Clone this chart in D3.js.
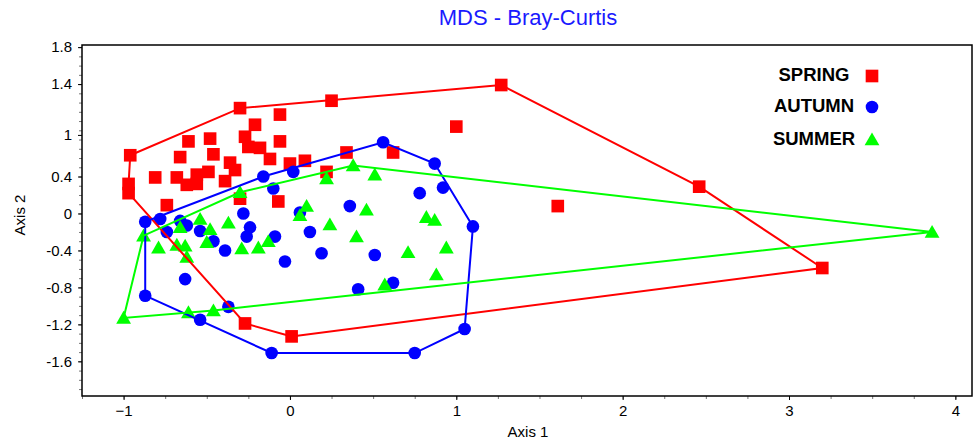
<!DOCTYPE html>
<html>
<head>
<meta charset="utf-8">
<script src="https://cdn.jsdelivr.net/npm/d3@7"></script>
<style>
  body { margin: 0; background: #fff; }
  svg { font-family: "Liberation Sans", Arial, sans-serif; }
</style>
</head>
<body>
<svg id="canvas" width="975" height="444"></svg>
<script>
// MDS scores
const springX = [-0.96, -0.97, -0.97, -0.30, -0.06, -0.21, -0.61, -0.48, -0.27, -0.06,
  -0.66, -0.46, -0.25, -0.18, -0.12, -0.36, -0.81, -0.68, -0.56, -0.49,
  -0.33, -0.62, -0.56, -0.39, 0.00, 0.09, -0.74, -0.30, -0.07, 0.25,
  1.00, 0.34, 0.62, 0.22, 1.27, 1.61, 2.46, 3.20, 0.01, -0.27];
const springY = [0.63, 0.32, 0.22, 1.14, 1.07, 0.96, 0.78, 0.81, 0.83, 0.78,
  0.61, 0.64, 0.72, 0.71, 0.59, 0.55, 0.39, 0.39, 0.42, 0.45,
  0.47, 0.31, 0.32, 0.35, 0.54, 0.57, 0.09, 0.16, 0.13, 1.22,
  0.94, 0.66, 0.66, 0.45, 1.39, 0.08, 0.29, -0.59, -1.33, -1.19];

const autumnX = [-0.87, -0.78, -0.66, -0.62, -0.74, -0.54, -0.46, -0.39, -0.28, -0.24,
  -0.26, -0.09, -0.03, -0.63, -0.87, -0.54, -0.37, -0.11, -0.16, 0.02,
  -0.10, 0.06, 0.56, 0.87, 0.92, 0.78, 0.36, 0.12, 0.19, 0.51,
  0.41, 0.62, 1.10, 1.05, 0.75];
const autumnY = [-0.09, -0.06, -0.08, -0.13, -0.20, -0.19, -0.30, -0.40, 0.00, -0.15,
  -0.25, -0.25, -0.52, -0.71, -0.89, -1.15, -1.01, -1.51, 0.40, 0.45,
  0.27, 0.01, 0.77, 0.54, 0.28, 0.22, 0.08, -0.20, -0.43, -0.45,
  -0.82, -0.75, -0.14, -1.25, -1.51];

const summerX = [-1.00, -0.88, -0.79, -0.68, -0.63, -0.62, -0.66, -0.54, -0.48, -0.37,
  -0.50, -0.29, -0.19, -0.13, -0.30, 0.38, 0.51, 0.22, 0.10, 0.06,
  0.24, 0.46, 0.40, 0.82, 0.87, 0.71, 0.94, 0.88, 0.57, -0.61,
  -0.46, 3.86];
const summerY = [-1.13, -0.24, -0.37, -0.34, -0.35, -0.47, -0.15, -0.06, -0.17, -0.10,
  -0.31, -0.38, -0.37, -0.30, 0.23, 0.52, 0.42, 0.38, 0.08, -0.02,
  -0.12, 0.04, -0.25, -0.04, -0.07, -0.42, -0.37, -0.66, -0.77, -1.07,
  -1.05, -0.20];

const seasons = ["SPRING", "AUTUMN", "SUMMER"];
const seasonColors = ["#ff0000", "#0000ff", "#00ff00"];
const seasonSymbols = [d3.symbolSquare, d3.symbolCircle, d3.symbolTriangle];

const xTicks = [-1, 0, 1, 2, 3, 4];
const yTicks = [1.8, 1.4, 0.85, 0.4, 0, -0.4, -0.8, -1.2, -1.6];
const yTickLabels = ["1.8", "1.4", "1", "0.4", "0", "-0.4", "-0.8", "-1.2", "-1.6"];

const groups = [
  springX.map((x, i) => [x, springY[i]]),
  autumnX.map((x, i) => [x, autumnY[i]]),
  summerX.map((x, i) => [x, summerY[i]])
];

let canvas = d3.select("#canvas");

const plotLeft = 82, plotRight = 972, plotTop = 45, plotBottom = 396;

const xScale = d3.scaleLinear().domain([-1.25, 4.1]).range([plotLeft, plotRight]);
const yScale = d3.scaleLinear().domain([-1.975, 1.823]).range([plotBottom, plotTop]);

// title
canvas.append("text")
  .attr("x", 528)
  .attr("y", 25)
  .attr("text-anchor", "middle")
  .attr("fill", "#1a1aff")
  .style("font-size", "22px")
  .text("MDS - Bray-Curtis");

// axes
const xMinor = d3.range(-1.25, 4.01, 0.25);
canvas.append("g")
  .attr("transform", `translate(0,${plotBottom})`)
  .call(d3.axisBottom(xScale).tickValues(xMinor).tickSize(3).tickFormat(""))
  .call((g) => g.select(".domain").remove())
  .selectAll("line").attr("stroke", "#777");

canvas.append("g")
  .attr("transform", `translate(0,${plotBottom})`)
  .call(d3.axisBottom(xScale).tickValues(xTicks).tickSize(4).tickPadding(5).tickFormat(d3.format("d")))
  .call((g) => g.select(".domain").remove())
  .call((g) => g.selectAll("text").style("font-size", "15px").attr("fill", "#000"));

const yMinor = d3.range(-1.9, 1.81, 0.1);
canvas.append("g")
  .attr("transform", `translate(${plotLeft},0)`)
  .call(d3.axisLeft(yScale).tickValues(yMinor).tickSize(3).tickFormat(""))
  .call((g) => g.select(".domain").remove())
  .selectAll("line").attr("stroke", "#777");

canvas.append("g")
  .attr("transform", `translate(${plotLeft},0)`)
  .call(d3.axisLeft(yScale).tickValues(yTicks).tickSize(4).tickPadding(6)
    .tickFormat((d, i) => yTickLabels[i]))
  .call((g) => g.select(".domain").remove())
  .call((g) => g.selectAll("text").style("font-size", "15px").attr("fill", "#000"));

// frame
canvas.append("rect")
  .attr("x", plotLeft)
  .attr("y", plotTop)
  .attr("width", plotRight - plotLeft)
  .attr("height", plotBottom - plotTop)
  .attr("fill", "none")
  .attr("stroke", "#000")
  .attr("stroke-width", 1.5);

// axis titles
canvas.append("text")
  .attr("x", 528)
  .attr("y", 437)
  .attr("text-anchor", "middle")
  .style("font-size", "15px")
  .text("Axis 1");

canvas.append("text")
  .attr("transform", "translate(25,215) rotate(-90)")
  .attr("text-anchor", "middle")
  .style("font-size", "15px")
  .text("Axis 2");

// points
const symbolSizes = [160, 125, 95];
groups.forEach((pts, k) => {
  canvas.append("g")
    .selectAll("path")
    .data(pts)
    .enter()
    .append("path")
    .attr("transform", (d) => "translate(" + xScale(d[0]) + "," + (yScale(d[1]) + (k == 2 ? 1.5 : 0)) + ")")
    .attr("d", d3.symbol().type(seasonSymbols[k]).size(symbolSizes[k]))
    .attr("fill", seasonColors[k]);
});

// convex hulls
groups.forEach((pts, k) => {
  const hull = d3.polygonHull(pts.map((d) => [xScale(d[0]), yScale(d[1])]));
  canvas.append("path")
    .attr("d", "M" + hull.join("L") + "Z")
    .attr("fill", "none")
    .attr("stroke", seasonColors[k])
    .attr("stroke-width", 2);
});

// legend
const legend = canvas.append("g");
const legendY = [81, 112, 145];
seasons.forEach((s, i) => {
  legend.append("text")
    .attr("x", 814)
    .attr("y", legendY[i])
    .attr("text-anchor", "middle")
    .style("font-size", "18.5px")
    .style("font-weight", "bold")
    .text(s);
  legend.append("path")
    .attr("transform", "translate(872," + (legendY[i] - 5 + (i == 2 ? 1 : 0)) + ")")
    .attr("d", d3.symbol().type(seasonSymbols[i]).size(symbolSizes[i]))
    .attr("fill", seasonColors[i]);
});
</script>
</body>
</html>
